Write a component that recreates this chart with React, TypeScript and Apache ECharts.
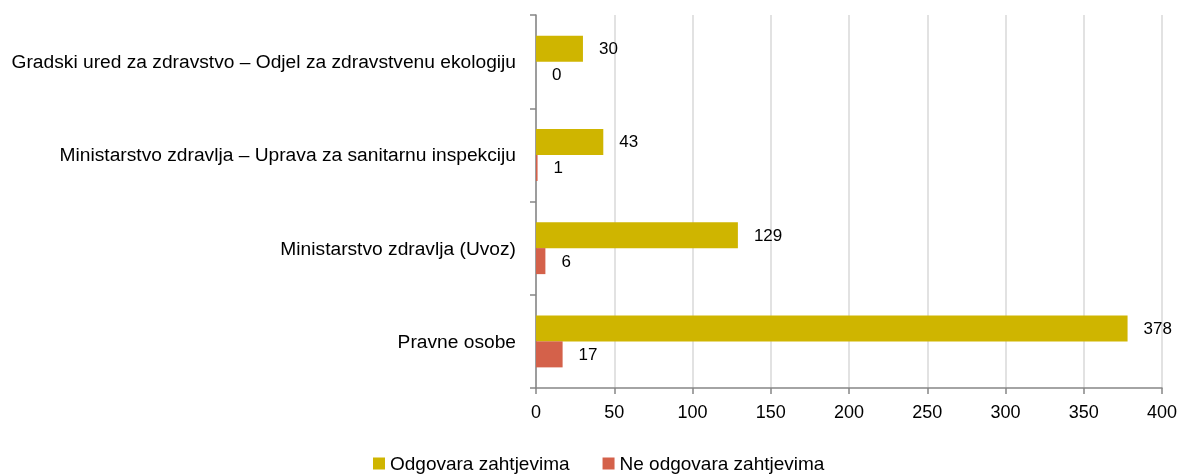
import React, { useEffect, useRef } from "react";
import * as echarts from "echarts";

const categories = [
  "Gradski ured za zdravstvo – Odjel za zdravstvenu ekologiju",
  "Ministarstvo zdravlja – Uprava za sanitarnu inspekciju",
  "Ministarstvo zdravlja (Uvoz)",
  "Pravne osobe",
];
const odgovara = [30, 43, 129, 378];
const neOdgovara = [0, 1, 6, 17];
const seriesNames = ["Odgovara zahtjevima", "Ne odgovara zahtjevima"];

const FONT = "'Liberation Sans', Arial, sans-serif";

export default function App() {
  const ref = useRef<HTMLDivElement>(null);
  useEffect(() => {
    if (!ref.current) return;
    const chart = echarts.init(ref.current, undefined, { renderer: "svg" });
    const label = {
      show: true,
      position: "right",
      distance: 16,
      color: "#000",
      fontSize: 17,
      fontFamily: FONT,
    };
    chart.setOption({
      animation: false,
      textStyle: { fontFamily: FONT },
      grid: { left: 536, right: 19, top: 15, bottom: 86, containLabel: false },
      legend: {
        bottom: -4,
        left: 368,
        itemWidth: 12,
        itemHeight: 12,
        itemGap: 33,
        icon: "rect",
        textStyle: { fontSize: 19, color: "#000", fontFamily: FONT },
        data: seriesNames,
      },
      xAxis: {
        type: "value",
        min: 0,
        max: 400,
        interval: 50,
        axisLine: { show: true, lineStyle: { color: "#868686", width: 1.5 } },
        axisTick: { show: true, length: 6, lineStyle: { color: "#868686", width: 1.5 } },
        axisLabel: { fontSize: 18, color: "#000", margin: 15, fontFamily: FONT },
        splitLine: { show: true, lineStyle: { color: "#d9d9d9", width: 1.5 } },
      },
      yAxis: {
        type: "category",
        inverse: true,
        data: categories,
        axisLine: { show: true, lineStyle: { color: "#868686", width: 1.5 } },
        axisTick: { show: true, length: 6, inside: false, lineStyle: { color: "#868686", width: 1.5 } },
        axisLabel: { fontSize: 19.2, color: "#000", margin: 20, fontFamily: FONT },
        splitLine: { show: false },
      },
      series: [
        {
          name: seriesNames[0],
          type: "bar",
          data: odgovara,
          barWidth: 26,
          barGap: "0%",
          itemStyle: { color: "#CFB500" },
          label,
        },
        {
          name: seriesNames[1],
          type: "bar",
          data: neOdgovara,
          barWidth: 26,
          barGap: "0%",
          itemStyle: { color: "#D4614A" },
          label,
        },
      ],
    });
    return () => chart.dispose();
  }, []);
  return (
    <div
      ref={ref}
      style={{ position: "fixed", left: 0, top: 0, width: 1181, height: 474 }}
    />
  );
}
